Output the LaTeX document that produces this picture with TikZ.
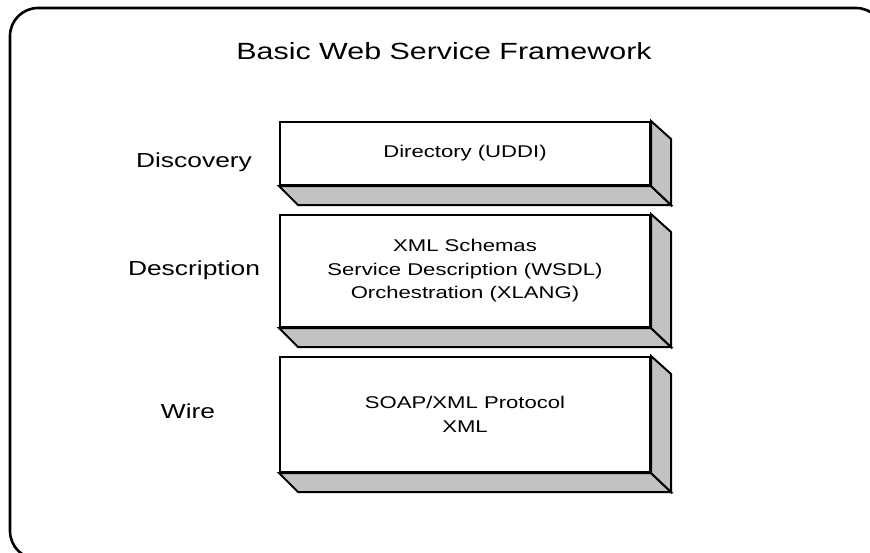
\documentclass[tikz,border=0pt]{standalone}
\usepackage{fontspec}
\setmainfont{Liberation Sans}[FakeStretch=1.3]
\usetikzlibrary{calc}
\definecolor{facegray}{gray}{0.76}
\begin{document}
\begin{tikzpicture}[x=1pt,y=-1pt,
  frame/.style={draw=black, line width=2.6pt, rounded corners=28pt},
  front/.style={draw=black, line width=2pt, fill=white, minimum width=370pt,
    inner sep=0pt, align=center, font=\fontsize{17}{23.5}\selectfont},
  bevel/.style={draw=black, line width=2pt, fill=facegray, line join=miter},
  layer/.style={font=\fontsize{20.3}{24}\selectfont},
  heading/.style={font=\fontsize{23.4}{28}\selectfont}]
  \useasboundingbox (0,0) rectangle (870,552);
  \clip (0,0) rectangle (870,552);

  % outer rounded frame, running past the right and bottom edges
  \draw[frame] (10,8) rectangle (884,559);

  \node[heading] (title) at (444,51) {Basic Web Service Framework};

  % layer names
  \node[layer] (ldisc) at (194,162) {Discovery};
  \node[layer] (ldesc) at (194,270) {Description};
  \node[layer] (lwire) at (188,411) {Wire};

  % front faces of the three slabs
  \node[front, minimum height=63pt]  (dir)  at (465,153.5) {Directory (UDDI)};
  \node[front, minimum height=112pt] (desc) at (465,271)
    {XML Schemas\\Service Description (WSDL)\\Orchestration (XLANG)};
  \node[front, minimum height=115pt] (wire) at (465,414.5)
    {SOAP/XML Protocol\\XML};

  % bottom and right bevels of each slab
  \foreach \s in {dir,desc,wire}{
    \draw[bevel] (\s.south west) -- ++(19,19)
      -- ($(\s.south east)+(20,19)$) -- (\s.south east) -- cycle;
    \draw[bevel] (\s.north east) -- ++(20,18)
      -- ($(\s.south east)+(20,19)$) -- (\s.south east) -- cycle;
  }
\end{tikzpicture}
\end{document}
